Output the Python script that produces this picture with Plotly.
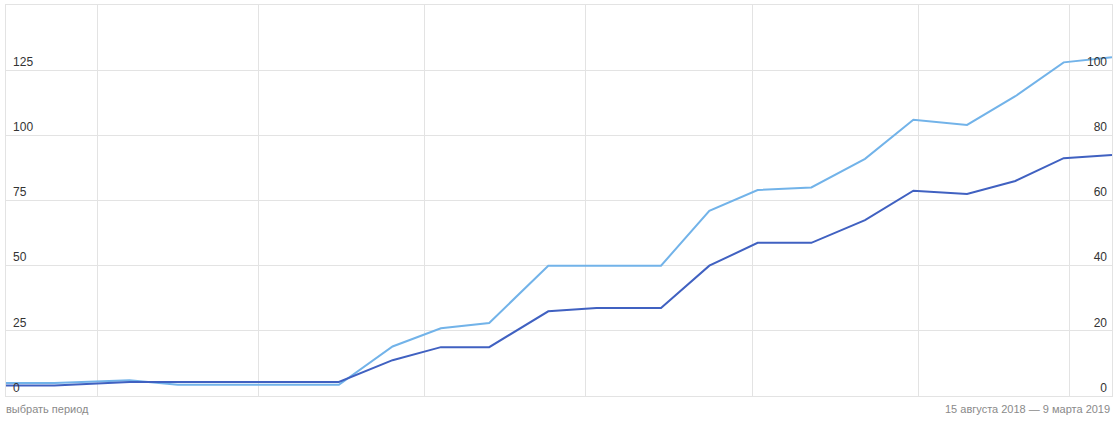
import plotly.graph_objects as go

dates = [
    "2018-08-15", "2018-08-24", "2018-09-07", "2018-09-16", "2018-09-26",
    "2018-10-06", "2018-10-16", "2018-10-26", "2018-11-04", "2018-11-13",
    "2018-11-24", "2018-12-03", "2018-12-15", "2018-12-24", "2019-01-02",
    "2019-01-12", "2019-01-22", "2019-01-31", "2019-02-10", "2019-02-19",
    "2019-02-28", "2019-03-09",
]
light_values = [5, 5, 6, 4.3, 4.3, 4.3, 4.3, 19, 26, 28, 50, 50, 50, 71, 79,
                80, 91, 106, 104, 115, 128, 130]
dark_values = [3.2, 3.2, 4.3, 4.3, 4.3, 4.3, 4.3, 11, 15, 15, 26, 27, 27, 40, 47,
               47, 54, 63, 62, 66, 73, 74]

left_ticks = [0, 25, 50, 75, 100, 125]
right_ticks = [0, 20, 40, 60, 80, 100]
month_ticks = ["2018-09-01", "2018-10-01", "2018-11-01", "2018-12-01",
               "2019-01-01", "2019-02-01", "2019-03-01"]
period_label = "выбрать период"
range_label = "15 августа 2018 — 9 марта 2019"

LIGHT = "#72b3e9"
DARK = "#4061c1"
GRID = "#e3e3e3"
FONT = "Liberation Sans"

fig = go.Figure()
fig.add_trace(go.Scatter(x=dates, y=light_values, mode="lines",
                         line=dict(color=LIGHT, width=2), yaxis="y",
                         hoverinfo="skip", showlegend=False))
fig.add_trace(go.Scatter(x=dates, y=dark_values, mode="lines",
                         line=dict(color=DARK, width=2), yaxis="y2",
                         hoverinfo="skip", showlegend=False))

fig.update_layout(
    width=1118, height=425,
    margin=dict(l=6, r=6, t=5, b=29),
    paper_bgcolor="white", plot_bgcolor="white",
    font=dict(family=FONT, size=12, color="#333333"),
    xaxis=dict(type="date", range=["2018-08-15", "2019-03-09"],
               tickvals=month_ticks, showticklabels=False, ticks="",
               showgrid=True, gridcolor=GRID, gridwidth=1,
               showline=True, linecolor=GRID, linewidth=1, mirror=True,
               zeroline=False, fixedrange=True),
    yaxis=dict(range=[0, 150], tickvals=left_ticks,
               ticklabelposition="inside top", ticks="",
               ticklabelstandoff=6,
               showgrid=True, gridcolor=GRID, gridwidth=1,
               showline=True, linecolor=GRID, linewidth=1, mirror=True,
               zeroline=False, tickfont=dict(size=12, color="#333333")),
    yaxis2=dict(range=[0, 120], tickvals=right_ticks, overlaying="y",
                side="right", ticklabelposition="inside top", ticks="",
                ticklabelstandoff=2,
                showgrid=False, zeroline=False,
                tickfont=dict(size=12, color="#333333")),
    annotations=[
        dict(text=period_label, xref="paper", yref="paper", x=0, y=0,
             xanchor="left", yanchor="top", yshift=-5, xshift=-2, showarrow=False,
             font=dict(family=FONT, size=11, color="#8a8a8a")),
        dict(text=range_label, xref="paper", yref="paper", x=1, y=0,
             xanchor="right", yanchor="top", yshift=-5, showarrow=False,
             font=dict(family=FONT, size=11, color="#8a8a8a")),
    ],
)

fig.write_html("out.html",
               config={"displayModeBar": False},
               post_script="document.body.style.margin='0px';document.body.style.padding='0px';")
